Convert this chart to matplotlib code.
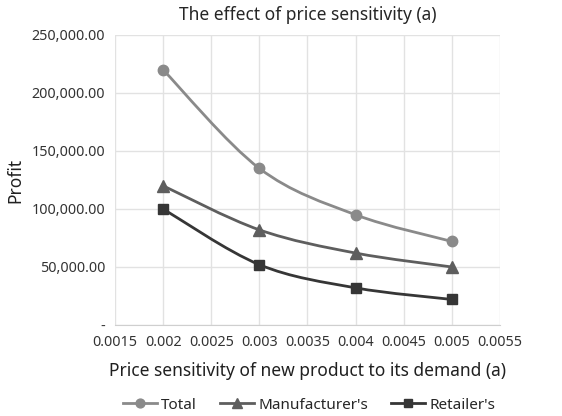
import numpy as np
import matplotlib
matplotlib.use("Agg")
import matplotlib.pyplot as plt
from matplotlib.path import Path
from matplotlib.patches import PathPatch
from matplotlib.lines import Line2D
from matplotlib.ticker import FuncFormatter, MultipleLocator

plt.rcParams["font.family"] = ["Noto Sans", "DejaVu Sans"]

# price sensitivity values and profits
alpha = [0.002, 0.003, 0.004, 0.005]
total = [220000, 135000, 95000, 72000]
manufacturer = [120000, 82000, 62000, 50000]
retailer = [100000, 52000, 32000, 22000]

series = [
    ("Total", total, "o", "#8a8a8a", 7.5),
    ("Manufacturer's", manufacturer, "^", "#5e5e5e", 8),
    ("Retailer's", retailer, "s", "#363636", 7.5),
]


def smooth_path(xs, ys, tension=1 / 6):
    """Bezier path through the points (Catmull-Rom style, like spreadsheet smoothing)."""
    pts = np.column_stack([xs, ys]).astype(float)
    verts = [pts[0]]
    codes = [Path.MOVETO]
    n = len(pts)
    for i in range(n - 1):
        p0 = pts[i - 1] if i > 0 else pts[i]
        p1 = pts[i]
        p2 = pts[i + 1]
        p3 = pts[i + 2] if i + 2 < n else pts[i + 1]
        c1 = p1 + (p2 - p0) * tension
        c2 = p2 - (p3 - p1) * tension
        verts += [c1, c2, p2]
        codes += [Path.CURVE4] * 3
    return Path(verts, codes)


fig = plt.figure(figsize=(5.62, 4.16), dpi=100)
ax = fig.add_axes([0.2046, 0.2188, 0.6851, 0.6971])

for label, vals, marker, color, ms in series:
    # scale x so the curve shape is computed in a balanced space
    path = smooth_path(np.array(alpha) * 1e3, np.array(vals) / 1e5)
    verts = path.vertices.copy()
    verts[:, 0] /= 1e3
    verts[:, 1] *= 1e5
    ax.add_patch(PathPatch(Path(verts, path.codes), facecolor="none",
                           edgecolor=color, lw=2, zorder=3))
    ax.plot(alpha, vals, linestyle="none", marker=marker, color=color,
            markersize=ms, zorder=4)

ax.set_xlim(0.0015, 0.0055)
ax.set_ylim(0, 250000)
ax.xaxis.set_major_locator(MultipleLocator(0.0005))
ax.yaxis.set_major_locator(MultipleLocator(50000))
ax.xaxis.set_major_formatter(FuncFormatter(lambda v, p: f"{v:.4f}".rstrip("0")))
ax.yaxis.set_major_formatter(
    FuncFormatter(lambda v, p: "-" if v == 0 else f"{v:,.2f}"))

ax.grid(True, color="#e2e2e2", lw=1)
ax.set_axisbelow(True)
for side in ["top", "right", "left"]:
    ax.spines[side].set_visible(False)
ax.spines["bottom"].set_color("#cfcfcf")
ax.tick_params(length=0, labelsize=10.3, colors="#333333", pad=7)
ax.tick_params(axis="y", pad=7)

ax.set_title("The effect of price sensitivity (a)", fontsize=12.5,
             color="#262626", pad=11)
ax.set_xlabel("Price sensitivity of new product to its demand (a)",
              fontsize=12.5, color="#202020", labelpad=9)
ax.set_ylabel("Profit", fontsize=12.5, color="#202020", labelpad=5)

handles = [Line2D([], [], color=c, marker=m, lw=2, markersize=ms * 0.85)
           for _, _, m, c, ms in series]
fig.legend(handles, [s[0] for s in series], loc="lower center",
           bbox_to_anchor=(0.55, -0.025), ncol=3, frameon=False, fontsize=11,
           handlelength=2.2, handletextpad=0.3, columnspacing=1.5,
           labelcolor="#262626")

fig.savefig("out.png", dpi=100)
